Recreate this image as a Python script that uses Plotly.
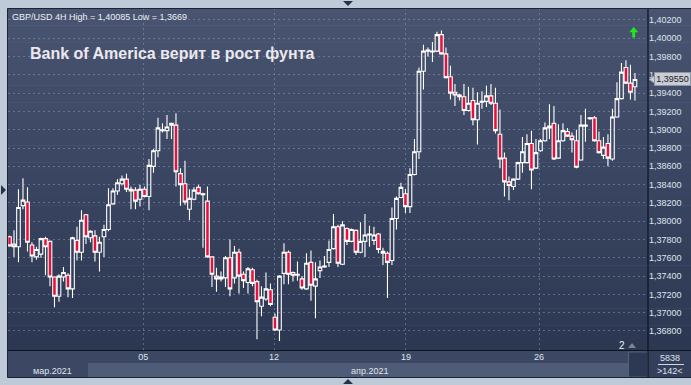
import plotly.graph_objects as go

# ---------------- data (GBP/USD 4H) ----------------
opens = [1.3783, 1.3775, 1.3772, 1.3817, 1.3821, 1.3774, 1.3761, 1.3764, 1.3781, 1.3778,
         1.3739, 1.3718, 1.3739, 1.3741, 1.3726, 1.3779, 1.3766, 1.3807, 1.3782, 1.3784,
         1.3766, 1.3783, 1.3791, 1.3819, 1.3833, 1.3841, 1.3846, 1.3833, 1.3834, 1.3824,
         1.3835, 1.3827, 1.3860, 1.3877, 1.3899, 1.3899, 1.3905, 1.3905, 1.3852, 1.3841,
         1.3813, 1.3824, 1.3837, 1.3829, 1.3822, 1.3761, 1.3740, 1.3737, 1.3738, 1.3760,
         1.3738, 1.3766, 1.3742, 1.3733, 1.3747, 1.3734, 1.3707, 1.3715, 1.3725, 1.3695,
         1.3681, 1.3743, 1.3766, 1.3744, 1.3741, 1.3737, 1.3726, 1.3755, 1.3729, 1.3746,
         1.3750, 1.3755, 1.3770, 1.3794, 1.3753, 1.3792, 1.3778, 1.3790, 1.3766, 1.3778,
         1.3785, 1.3779, 1.3786, 1.3767, 1.3765, 1.3757, 1.3803, 1.3826, 1.3830, 1.3816,
         1.3851, 1.3876, 1.3964, 1.3987, 1.3985, 1.3986, 1.4004, 1.3983, 1.3958, 1.3941,
         1.3938, 1.3936, 1.3921, 1.3932, 1.3911, 1.3930, 1.3931, 1.3937, 1.3929, 1.3895,
         1.3869, 1.3843, 1.3838, 1.3846, 1.3864, 1.3864, 1.3885, 1.3858, 1.3877, 1.3888,
         1.3902, 1.3907, 1.3869, 1.3888, 1.3898, 1.3893, 1.3888, 1.3867, 1.3904, 1.3912,
         1.3913, 1.3888, 1.3872, 1.3885, 1.3868, 1.3914, 1.3934, 1.3968, 1.3951, 1.3947]
highs = [1.3784, 1.3790, 1.3835, 1.3847, 1.3837, 1.3777, 1.3772, 1.3782, 1.3783, 1.3779,
         1.3739, 1.3742, 1.3750, 1.3743, 1.3783, 1.3794, 1.3812, 1.3808, 1.3790, 1.3790,
         1.3783, 1.3796, 1.3836, 1.3836, 1.3846, 1.3850, 1.3852, 1.3838, 1.3837, 1.3840,
         1.3838, 1.3868, 1.3879, 1.3913, 1.3907, 1.3916, 1.3907, 1.3918, 1.3858, 1.3866,
         1.3835, 1.3837, 1.3840, 1.3831, 1.3838, 1.3761, 1.3749, 1.3745, 1.3762, 1.3780,
         1.3773, 1.3770, 1.3745, 1.3750, 1.3749, 1.3736, 1.3729, 1.3744, 1.3732, 1.3699,
         1.3741, 1.3776, 1.3768, 1.3745, 1.3756, 1.3740, 1.3765, 1.3768, 1.3755, 1.3757,
         1.3762, 1.3779, 1.3808, 1.3796, 1.3800, 1.3793, 1.3792, 1.3791, 1.3799, 1.3808,
         1.3795, 1.3794, 1.3787, 1.3771, 1.3767, 1.3815, 1.3827, 1.3842, 1.3835, 1.3858,
         1.3890, 1.3968, 1.3993, 1.3990, 1.3996, 1.4007, 1.40085, 1.3990, 1.3970, 1.3950,
         1.3939, 1.3950, 1.3947, 1.3946, 1.3941, 1.3942, 1.3948, 1.3950, 1.3946, 1.3922,
         1.3875, 1.3849, 1.3847, 1.3865, 1.3892, 1.3895, 1.3899, 1.3890, 1.3890, 1.3908,
         1.3928, 1.3926, 1.3906, 1.3907, 1.3902, 1.3897, 1.3900, 1.3916, 1.3923, 1.3914,
         1.3915, 1.3898, 1.3892, 1.3895, 1.3923, 1.3952, 1.3973, 1.3976, 1.3971, 1.3962]
lows = [1.3772, 1.3761, 1.3755, 1.3813, 1.3767, 1.3755, 1.3758, 1.3760, 1.3741, 1.3729,
        1.3706, 1.3712, 1.3734, 1.3717, 1.3716, 1.3757, 1.3757, 1.3775, 1.3777, 1.3756,
        1.3745, 1.3761, 1.3789, 1.3818, 1.3829, 1.3839, 1.3832, 1.3813, 1.3813, 1.3816,
        1.3826, 1.3812, 1.3853, 1.3870, 1.3897, 1.3890, 1.3890, 1.3838, 1.3817, 1.3818,
        1.3801, 1.3823, 1.3829, 1.3771, 1.3760, 1.3728, 1.3723, 1.3734, 1.3728, 1.3718,
        1.3732, 1.3721, 1.3727, 1.3721, 1.3729, 1.3671, 1.3696, 1.3713, 1.3707, 1.3680,
        1.3669, 1.3731, 1.3731, 1.3734, 1.3735, 1.3725, 1.3725, 1.3713, 1.3694, 1.3738,
        1.3749, 1.3750, 1.3769, 1.3750, 1.3752, 1.3774, 1.3777, 1.3763, 1.3765, 1.3761,
        1.3772, 1.3774, 1.3765, 1.3752, 1.3716, 1.3752, 1.3791, 1.3825, 1.3809, 1.3809,
        1.3850, 1.3868, 1.3944, 1.3980, 1.3974, 1.3985, 1.3982, 1.3956, 1.3933, 1.3926,
        1.3932, 1.3916, 1.3920, 1.3905, 1.3884, 1.3923, 1.3925, 1.3927, 1.3896, 1.3858,
        1.3827, 1.3823, 1.3834, 1.3845, 1.3853, 1.3863, 1.3835, 1.3857, 1.3876, 1.3887,
        1.3890, 1.3867, 1.3868, 1.3887, 1.3892, 1.3875, 1.3858, 1.3866, 1.3887, 1.3911,
        1.3887, 1.3874, 1.3868, 1.3860, 1.3866, 1.3913, 1.3933, 1.3950, 1.3933, 1.3932]
closes = [1.3773, 1.3772, 1.3815, 1.3823, 1.3777, 1.3762, 1.3769, 1.3781, 1.3772, 1.3739,
          1.3718, 1.3740, 1.3744, 1.3726, 1.3782, 1.3766, 1.3801, 1.3783, 1.3789, 1.3766,
          1.3777, 1.3791, 1.3818, 1.3833, 1.3842, 1.3846, 1.3835, 1.3835, 1.3822, 1.3835,
          1.3827, 1.3861, 1.3877, 1.3902, 1.3900, 1.3903, 1.3907, 1.3854, 1.3840, 1.3821,
          1.3825, 1.3834, 1.3830, 1.3830, 1.3761, 1.3742, 1.3737, 1.3739, 1.3760, 1.3726,
          1.3766, 1.3740, 1.3735, 1.3748, 1.3732, 1.3712, 1.3717, 1.3726, 1.3709, 1.3681,
          1.3740, 1.3766, 1.3742, 1.3741, 1.3742, 1.3727, 1.3754, 1.3730, 1.3737, 1.3750,
          1.3751, 1.3769, 1.3794, 1.3754, 1.3796, 1.3778, 1.3791, 1.3766, 1.3778, 1.3785,
          1.3786, 1.3785, 1.3769, 1.3765, 1.3755, 1.3803, 1.3825, 1.3837, 1.3816, 1.3851,
          1.3876, 1.3964, 1.3986, 1.3986, 1.3986, 1.4004, 1.3983, 1.3957, 1.3940, 1.3938,
          1.3936, 1.3921, 1.3929, 1.3911, 1.3929, 1.3931, 1.3937, 1.3929, 1.3899, 1.3868,
          1.3843, 1.3839, 1.3846, 1.3864, 1.3876, 1.3885, 1.3856, 1.3875, 1.3888, 1.3902,
          1.3904, 1.3868, 1.3888, 1.3899, 1.3893, 1.3889, 1.3859, 1.3905, 1.3905, 1.3913,
          1.3888, 1.3875, 1.3881, 1.3869, 1.3914, 1.3934, 1.3963, 1.3951, 1.3941, 1.3955]

week_ticks = [29.7, 58.8, 88.1, 117.7]
week_labels = ["05", "12", "19", "26"]
price_ticks = [1.368, 1.370, 1.372, 1.374, 1.376, 1.378, 1.380, 1.382, 1.384,
               1.386, 1.388, 1.390, 1.392, 1.394, 1.396, 1.398, 1.400, 1.402]
header = "GBP/USD 4H High = 1,40085 Low = 1,3669"
title = "Bank of America верит в рост фунта"
months = [("мар.2021", 52), ("апр.2021", 369)]

# ---------------- helpers ----------------
W, H = 691, 385
def px(x):
    return x / W
def py(y):
    return 1 - y / H
def poly(pts):
    return "M " + " L ".join(f"{px(a):.5f},{py(b):.5f}" for a, b in pts) + " Z"

FONT = "Liberation Sans, Arial, sans-serif"
GRID = "rgba(135,150,182,0.55)"
TXT = "#dfe4ec"

fig = go.Figure(go.Candlestick(
    x=list(range(len(opens))), open=opens, high=highs, low=lows, close=closes,
    increasing=dict(line=dict(color="#ffffff", width=1.1), fillcolor="rgba(0,0,0,0)"),
    decreasing=dict(line=dict(color="#ffffff", width=1.1), fillcolor="#e8103a"),
    whiskerwidth=0, hoverinfo="skip"))

shapes = []
# gradient background of chart + price scale
N = 40
top_c, bot_c = (72, 84, 112), (44, 55, 82)
y_top, y_bot = 8, 351
for i in range(N):
    t = i / (N - 1)
    c = tuple(int(round(top_c[k] + (bot_c[k] - top_c[k]) * t)) for k in range(3))
    y0 = y_top + (y_bot - y_top) * i / N
    y1 = y_top + (y_bot - y_top) * (i + 1) / N + 0.5
    shapes.append(dict(type="rect", xref="paper", yref="paper", layer="below",
                       x0=px(7.5), x1=px(691), y0=py(y1), y1=py(y0),
                       line=dict(width=0), fillcolor=f"rgb{c}"))
# bottom time panel
shapes += [
    dict(type="rect", xref="paper", yref="paper", layer="below", x0=px(7.5), x1=px(648),
         y0=py(377.5), y1=py(350.5), line=dict(width=0), fillcolor="#3b4763"),
    dict(type="rect", xref="paper", yref="paper", layer="below", x0=px(88), x1=px(628),
         y0=py(377.5), y1=py(363), line=dict(width=0), fillcolor="#4f5c77"),
    dict(type="rect", xref="paper", yref="paper", layer="below", x0=px(628.5), x1=px(647.5),
         y0=py(377), y1=py(352), line=dict(width=1, color="#52607a"), fillcolor="#2d3852"),
    dict(type="rect", xref="paper", yref="paper", layer="below", x0=px(648), x1=px(691),
         y0=py(377.5), y1=py(350.5), line=dict(width=0), fillcolor="#34405b"),
    dict(type="line", xref="paper", yref="paper", layer="below", x0=px(658), x1=px(684),
         y0=py(364.5), y1=py(364.5), line=dict(width=1, color="#cfd6e2")),
    # frame lines
    dict(type="line", xref="paper", yref="paper", layer="above", x0=px(7.5), x1=px(691),
         y0=py(350.5), y1=py(350.5), line=dict(width=1.2, color="#0e1320")),
    dict(type="line", xref="paper", yref="paper", layer="above", x0=px(648), x1=px(648),
         y0=py(377.5), y1=py(8), line=dict(width=1.2, color="#0e1320")),
    dict(type="rect", xref="paper", yref="paper", layer="above", x0=px(7.5), x1=px(691.5),
         y0=py(377.5), y1=py(8.5), line=dict(width=1, color="#1c2333")),
    # small navigation triangles in the frame
    dict(type="path", xref="paper", yref="paper", layer="above",
         path=poly([(343, 1), (353, 1), (348, 6)]), fillcolor="#27324a", line=dict(width=0)),
    dict(type="path", xref="paper", yref="paper", layer="above",
         path=poly([(343, 384), (353, 384), (348, 379)]), fillcolor="#27324a", line=dict(width=0)),
    dict(type="path", xref="paper", yref="paper", layer="above",
         path=poly([(1, 185), (1, 195), (6, 190)]), fillcolor="#27324a", line=dict(width=0)),
    # marker near "2"
    dict(type="path", xref="paper", yref="paper", layer="above",
         path=poly([(628, 348), (636, 348), (632, 343)]), fillcolor="#7b8598", line=dict(width=0)),
    # green signal arrow
    dict(type="path", xref="paper", yref="paper", layer="above",
         path=poly([(633.7, 27), (629.2, 32.3), (632.2, 32.3), (632.2, 37.5),
                    (635.2, 37.5), (635.2, 32.3), (638.2, 32.3)]),
         fillcolor="#1fe81f", line=dict(width=0)),
]
# last-price tag pointer
last = closes[-1]
hh = 0.00045
shapes.append(dict(type="path", xref="paper", yref="y", layer="above",
                   path=f"M {px(649):.5f},{last:.5f} L {px(655):.5f},{last + hh:.5f} "
                        f"L {px(655):.5f},{last - hh:.5f} Z",
                   fillcolor="#c9cdd5", line=dict(width=1, color="#8e95a3")))

annotations = [
    dict(text=header, x=px(10), y=py(17), xref="paper", yref="paper", xanchor="left",
         yanchor="middle", showarrow=False, font=dict(family=FONT, size=9, color="#eef0f5")),
    dict(text=f"<b>{title}</b>", x=px(28), y=py(53.5), xref="paper", yref="paper",
         xanchor="left", yanchor="middle", showarrow=False,
         font=dict(family=FONT, size=16, color="#ece8ee")),
    dict(text=f"{last:.5f}".replace(".", ","), x=px(654), y=last, xref="paper", yref="y",
         xanchor="left", yanchor="middle", showarrow=False, bgcolor="#c9cdd5",
         bordercolor="#8e95a3", borderwidth=1, borderpad=1, width=33,
         font=dict(family=FONT, size=9, color="#151b28")),
    dict(text="2", x=px(622), y=py(345), xref="paper", yref="paper", xanchor="center",
         yanchor="middle", showarrow=False, font=dict(family=FONT, size=10, color="#eef1f6")),
    dict(text="5838", x=px(670), y=py(358), xref="paper", yref="paper", xanchor="center",
         yanchor="middle", showarrow=False, font=dict(family=FONT, size=9, color=TXT)),
    dict(text="&gt;142&lt;", x=px(670), y=py(371), xref="paper", yref="paper", xanchor="center",
         yanchor="middle", showarrow=False, font=dict(family=FONT, size=9, color=TXT)),
]
for txt, xc in months:
    annotations.append(dict(text=txt, x=px(xc), y=py(370.5), xref="paper", yref="paper",
                            xanchor="center", yanchor="middle", showarrow=False,
                            font=dict(family=FONT, size=9, color=TXT)))

fig.update_layout(
    width=W, height=H, margin=dict(l=0, r=0, t=0, b=0),
    paper_bgcolor="#bfcad9", plot_bgcolor="rgba(0,0,0,0)",
    separators=", ", showlegend=False, shapes=shapes, annotations=annotations,
    boxgap=0.15, boxgroupgap=0.05,
    xaxis=dict(domain=[px(8), px(648)], range=[-0.33, 141.9], rangeslider=dict(visible=False),
               tickmode="array", tickvals=week_ticks, ticktext=week_labels,
               showgrid=True, gridcolor=GRID, griddash="2px,3px", gridwidth=1,
               ticks="", showline=False, zeroline=False,
               tickfont=dict(family=FONT, size=9, color=TXT), fixedrange=True),
    yaxis=dict(domain=[py(350), py(8)], range=[1.36592, 1.40331], side="right",
               tickmode="array", tickvals=price_ticks, tickformat=".5f",
               showgrid=True, gridcolor=GRID, griddash="2px,3px", gridwidth=1,
               ticks="", showline=False, zeroline=False,
               tickfont=dict(family=FONT, size=9, color=TXT), fixedrange=True),
)

fig.write_html("out.html")
